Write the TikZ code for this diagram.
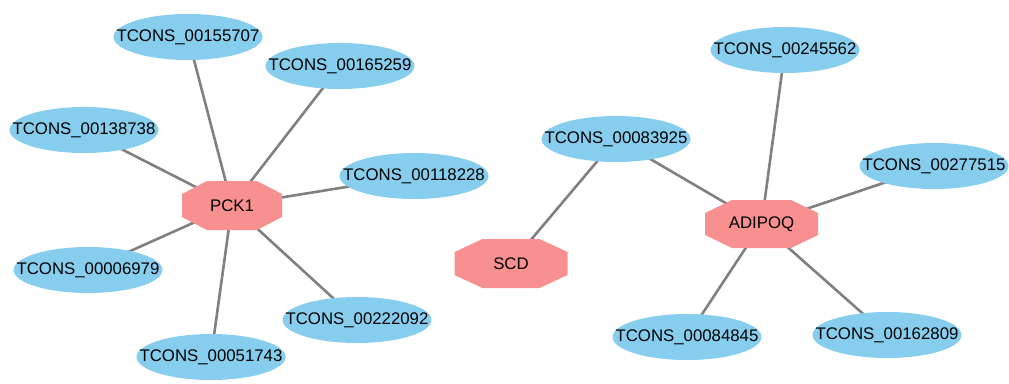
\documentclass[tikz,border=0pt]{standalone}
\usepackage{fontspec}
\setmainfont{Liberation Sans}
\usetikzlibrary{backgrounds,shapes.geometric}
\definecolor{tblue}{RGB}{135,206,238}
\definecolor{gpink}{RGB}{249,144,144}
\definecolor{edgegray}{RGB}{128,128,128}
\tikzset{
  lbl/.style={font=\fontsize{16.8}{19}\selectfont, inner sep=0pt},
  tnode/.style={ellipse, fill=tblue, minimum width=149pt, minimum height=46pt, inner sep=0pt,
    label={[lbl]center:#1}},
  gnode/.style={rectangle, minimum height=49pt, inner sep=0pt, lbl},
  link/.style={draw=edgegray, line width=2.6pt},
}
\newcommand{\octfill}[4]{% name, half-width, half-height, chamfer x
  \fill[gpink] ([shift={(-#2+#4,-#3)}]#1.center) -- ([shift={(#2-#4,-#3)}]#1.center)
    -- ([shift={(#2,-#3+13pt)}]#1.center) -- ([shift={(#2,#3-13pt)}]#1.center)
    -- ([shift={(#2-#4,#3)}]#1.center) -- ([shift={(-#2+#4,#3)}]#1.center)
    -- ([shift={(-#2,#3-13pt)}]#1.center) -- ([shift={(-#2,-#3+13pt)}]#1.center) -- cycle;}
\begin{document}
\begin{tikzpicture}[x=1pt,y=-1pt]
\useasboundingbox (0,0) rectangle (1009,383);
% gene nodes (placeholders for names)
\node[gnode, minimum width=100pt] (pck1) at (232,205.5) {};
\node[gnode, minimum width=113pt] (scd) at (511,263.5) {};
\node[gnode, minimum width=113pt] (adipoq) at (761.5,224) {};
% transcripts
\node[tnode={TCONS\_00155707}] (t155707) at (188,37) {};
\node[tnode={TCONS\_00165259}] (t165259) at (340,66) {};
\node[tnode={TCONS\_00138738}] (t138738) at (84,130) {};
\node[tnode={TCONS\_00118228}] (t118228) at (414,176) {};
\node[tnode={TCONS\_00006979}] (t006979) at (88,270) {};
\node[tnode={TCONS\_00222092}] (t222092) at (357,320) {};
\node[tnode={TCONS\_00051743}] (t051743) at (211,357) {};
\node[tnode={TCONS\_00083925}] (t083925) at (616,139) {};
\node[tnode={TCONS\_00245562}] (t245562) at (785,50) {};
\node[tnode={TCONS\_00277515}] (t277515) at (934,166) {};
\node[tnode={TCONS\_00084845}] (t084845) at (687,337) {};
\node[tnode={TCONS\_00162809}] (t162809) at (887,335) {};
% octagons
\octfill{pck1}{50pt}{24.5pt}{25pt}
\octfill{scd}{56.5pt}{24.5pt}{28pt}
\octfill{adipoq}{56.5pt}{24pt}{27pt}
\node[lbl] at (pck1.center) {PCK1};
\node[lbl] at (scd.center) {SCD};
\node[lbl] at (adipoq.center) {ADIPOQ};
\begin{pgfonlayer}{background}
\foreach \t in {t155707,t165259,t138738,t118228,t006979,t222092,t051743}
  \draw[link] (pck1.center) -- (\t.center);
\foreach \t in {t083925,t245562,t277515,t084845,t162809}
  \draw[link] (adipoq.center) -- (\t.center);
\draw[link] (scd.center) -- (t083925.center);
\end{pgfonlayer}
\end{tikzpicture}
\end{document}
